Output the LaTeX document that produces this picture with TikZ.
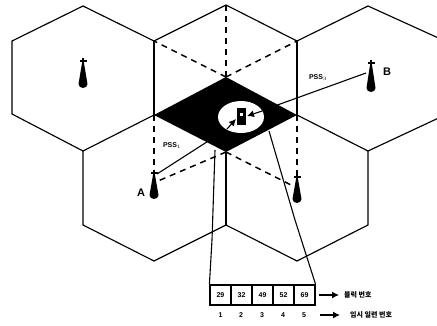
\documentclass[tikz,border=0pt]{standalone}
\usepackage{fontspec}
\setmainfont{Liberation Sans}
\newfontfamily\krfont{Noto Sans CJK KR}
\usetikzlibrary{arrows.meta}
\tikzset{
  hexline/.style={line width=1.15pt,black,line join=round},
  dashline/.style={line width=1.5pt,black,dash pattern=on 6pt off 5pt},
  thinline/.style={line width=1.1pt,black},
  feed/.style={line width=1.1pt,black,-{Latex[length=7pt,width=7pt]}},
  cell/.style={draw,line width=1.2pt,minimum width=21pt,minimum height=20pt,inner sep=0pt,font=\bfseries\fontsize{7}{8}\selectfont},
  idx/.style={font=\bfseries\fontsize{7}{8}\selectfont,inner sep=0pt},
  pss/.style={font=\bfseries\fontsize{7}{8}\selectfont,inner sep=0pt},
  site/.style={font=\bfseries\fontsize{11}{12}\selectfont,inner sep=0pt},
  kr/.style={font=\krfont\bfseries\fontsize{7}{8}\selectfont,inner sep=0pt,anchor=west}
}
\newcommand{\antenna}[3]{% top x, top y, bottom y
  \fill (#1-1,#2+3) -- (#1+1,#2+3) -- (#1+4.5,#3-4) arc (0:180:4.5 and 4) -- cycle;
  \draw[line width=1.3pt] (#1,#2-2) -- (#1,#2+4) (#1-3.5,#2+1) -- (#1+3.5,#2+1);
}
\begin{document}
\begin{tikzpicture}[x=1pt,y=-1pt]
\useasboundingbox (0,0) rectangle (437,325);
\clip (0,0) rectangle (437,325);
% named points
\coordinate (c) at (226,77);
\coordinate (t) at (226,5);
\coordinate (ul) at (154,41);
\coordinate (ur) at (297,41);
\coordinate (dl) at (154,115);
\coordinate (dr) at (297,115);
\coordinate (db) at (226,152);
\coordinate (aA) at (154,176);
\coordinate (aC) at (297,178);
\coordinate (aB) at (366,73);
\coordinate (mid) at (226,225);
% hexagon outlines
\draw[hexline] (ul) -- (83,6) -- (12,41) -- (12,114) -- (83,151) -- (dl);
\draw[hexline] (ul) -- (t) -- (ur) -- (368,6) -- (445,41) (445,115) -- (368,151) -- (dr);
\draw[hexline] (ul) -- (dl) (ur) -- (dr);
\draw[hexline] (83,151) -- (83,225) -- (154,261) -- (mid) -- (297,261) -- (368,225) -- (368,151);
\draw[hexline] (db) -- (mid);
% dashed spokes
\draw[dashline] (c) -- (t);
\draw[dashline] (c) -- (ul);
\draw[dashline] (c) -- (ur);
\draw[dashline] (dl) -- (aA);
\draw[dashline] (dr) -- (aC);
\draw[dashline] (db) -- (158,181);
\draw[dashline] (db) -- (293,186);
% radio links
\draw[thinline] (157,174) -- (227,129);
\draw[thinline] (aB) -- (247,116);
% black block and overlap area
\fill (dl) -- (c) -- (dr) -- (db) -- cycle;
\fill[white] (241,117) ellipse (23 and 16);
\fill (237,108) rectangle (246,125);
\fill[white] (240,113) rectangle (243,116);
\draw[feed] (227,129) -- (236,119);
\draw[feed] (262,111) -- (247,116);
% antennas
\antenna{83}{60}{88}
\antenna{371}{62}{92}
\antenna{154}{172}{199}
\antenna{297}{176}{203}
% labels
\node[site] (lA) at (141,193) {A};
\node[site] (lB) at (387,72) {B};
\node[pss] (p1) at (172,146) {PSS$_{\scriptscriptstyle 1}$};
\node[pss] (p3) at (318,78) {PSS$_{\scriptscriptstyle 3}$};
% table
\node[cell] (n1) at (220.5,295) {29};
\node[cell] (n2) at (241.5,295) {32};
\node[cell] (n3) at (262.5,295) {49};
\node[cell] (n4) at (283.5,295) {52};
\node[cell] (n5) at (304.5,295) {69};
\node[idx] (i1) at (220.5,315) {1};
\node[idx] (i2) at (241,315) {2};
\node[idx] (i3) at (262,315) {3};
\node[idx] (i4) at (283,315) {4};
\node[idx] (i5) at (304,315) {5};
% leader lines
\draw[thinline] (n1.north west) -- (212,240) -- (215,150);
\draw[thinline] (n5.north east) -- (295,220) -- (269,131);
% legends
\node[kr] (k1) at (344,295) {블럭 번호};
\node[kr] (k2) at (350,315) {임시 일련 번호};
\draw[feed,shorten >=5pt] (319,295) -- (k1.west);
\draw[feed,shorten >=10pt] (320,315) -- (k2.west);
\end{tikzpicture}
\end{document}
